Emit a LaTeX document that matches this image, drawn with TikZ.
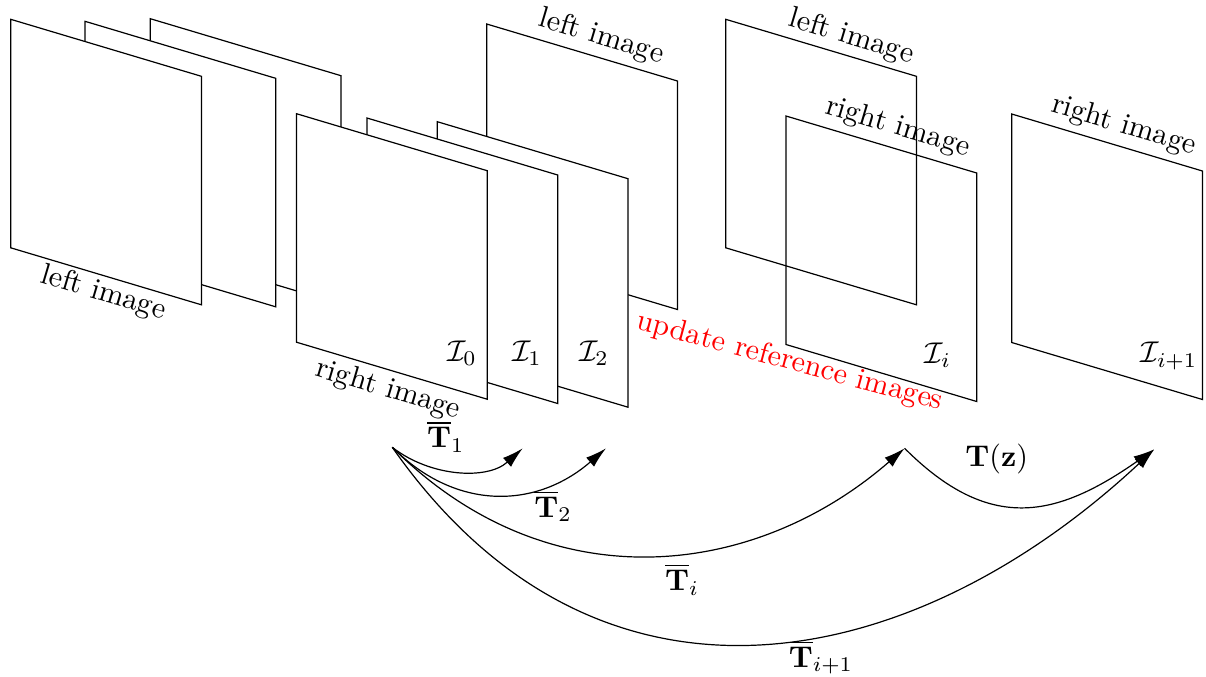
\documentclass[tikz,border=0pt]{standalone}
\usetikzlibrary{arrows.meta}
\newcommand\pnlshape[2]{\draw[#1] (#2) -- ++(190.7,57) -- ++(0,228.5) -- ++(-190.7,-57) -- cycle;}
\begin{document}
\begin{tikzpicture}[x=0.33333pt,y=-0.33333pt,
  solidpanel/.style={line width=0.4pt,fill=white},
  openpanel/.style={line width=0.4pt},
  lbl/.style={inner sep=0pt,outer sep=0pt,rotate=-16.6},
  mlbl/.style={inner sep=0pt,outer sep=0pt},
  arr/.style={line width=0.4pt,-{Latex[length=7pt,width=4pt]}}]
\useasboundingbox (0,0) rectangle (1206,676);
% panel corners
\coordinate (pA) at (10.7,19.3);
\coordinate (pB) at (85,21.3);
\coordinate (pC) at (150.3,18.7);
\coordinate (pD) at (296.5,113.7);
\coordinate (pE) at (367,118);
\coordinate (pF) at (437.3,121.7);
\coordinate (pG) at (486.7,24);
\coordinate (pH) at (725.7,19.3);
\coordinate (pI) at (786,116);
\coordinate (pJ) at (1011.7,114);
% back to front
\pnlshape{solidpanel}{pC}
\pnlshape{solidpanel}{pB}
\pnlshape{solidpanel}{pA}
\pnlshape{solidpanel}{pG}
\pnlshape{solidpanel}{pF}
\pnlshape{solidpanel}{pE}
\pnlshape{solidpanel}{pD}
\pnlshape{openpanel}{pH}
\pnlshape{openpanel}{pI}
\pnlshape{openpanel}{pJ}
% panel labels
\node[lbl] (lA) at (103.3,293.3) {left image};
\node[lbl] (lD) at (388.3,390) {right image};
\node[lbl] (lG) at (601.3,37.2) {left image};
\node[lbl] (lH) at (851.3,37.2) {left image};
\node[lbl] (lI) at (897.8,127.5) {right image};
\node[lbl] (lJ) at (1123.7,125.8) {right image};
\node[mlbl] (i0) at (462,353) {$\mathcal{I}_0$};
\node[mlbl] (i1) at (527,353) {$\mathcal{I}_1$};
\node[mlbl] (i2) at (594,353) {$\mathcal{I}_2$};
\node[mlbl] (ii) at (938,355) {$\mathcal{I}_i$};
\node[mlbl] (ij) at (1169,356) {$\mathcal{I}_{i+1}$};
\node[mlbl,rotate=-15,text=red] (upd) at (790,362) {update reference images};
% arrows
\coordinate (S) at (392.3,447.3);
\coordinate (E1) at (522.7,448.3);
\coordinate (E2) at (606,448.3);
\coordinate (Ei) at (904.6,448.3);
\coordinate (Ej) at (1154.3,449.3);
\draw[arr] (S) .. controls +(37.8,29.5) and +(-35.7,32.1) .. (E1);
\draw[arr] (S) .. controls +(64.7,64.7) and +(-69,60) .. (E2);
\draw[arr] (S) .. controls +(155.6,155.6) and +(-150.9,131.2) .. (Ei);
\draw[arr] (S) .. controls +(206.5,294.9) and +(-241.3,225.1) .. (Ej);
\draw[arr] (Ei) .. controls +(84.9,84.9) and +(-98.3,68.8) .. (Ej);
\node[mlbl] (t1) at (445.8,436.7) {$\overline{\mathbf{T}}_1$};
\node[mlbl] (t2) at (553,506) {$\overline{\mathbf{T}}_2$};
\node[mlbl] (ti) at (682,579.5) {$\overline{\mathbf{T}}_i$};
\node[mlbl] (tj) at (821,657.5) {$\overline{\mathbf{T}}_{i+1}$};
\node[mlbl] (tz) at (996.7,459) {$\mathbf{T}(\mathbf{z})$};
\end{tikzpicture}
\end{document}
